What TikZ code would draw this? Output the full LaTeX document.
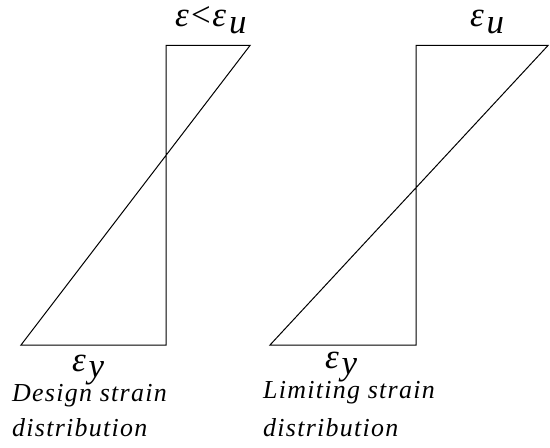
\documentclass[tikz,border=0pt]{standalone}
\usepackage{fontspec}
\setmainfont{Liberation Serif}
\newcommand{\subl}[1]{\kern0.08em\raisebox{-0.2em}{#1}}
\begin{document}
\begin{tikzpicture}[x=1bp,y=-1bp,
  lbl/.style={font=\itshape\fontsize{26}{30}\selectfont\addfontfeature{LetterSpace=5}, inner sep=0pt, anchor=base west},
  eps/.style={font=\itshape\fontsize{35}{38}\selectfont, inner sep=0pt, anchor=base west},
  profile/.style={line width=1bp, black, line join=miter}]
\useasboundingbox (0,0) rectangle (550,448);
% left profile
\coordinate (LTL) at (166,45.5);
\coordinate (LTR) at (250,45.5);
\coordinate (LBL) at (21,345);
\coordinate (LBR) at (166,345);
\draw[profile] (LTL) -- (LTR) -- (LBL) -- (LBR) -- cycle;
% right profile
\coordinate (RTL) at (416,45.5);
\coordinate (RTR) at (548,45.5);
\coordinate (RBL) at (270,345);
\coordinate (RBR) at (416,345);
\draw[profile] (RTL) -- (RTR) -- (RBL) -- (RBR) -- cycle;
% strain labels
\node[eps] (etop1) at (175,27) {ε<ε\subl{u}};
\node[eps] (etop2) at (470,27) {ε\subl{u}};
\node[eps] (ebot1) at (72,371) {ε\subl{y}};
\node[eps] (ebot2) at (325,368) {ε\subl{y}};
% captions
\node[lbl] (c1a) at (12,401) {Design strain};
\node[lbl] (c1b) at (12,436) {distribution};
\node[lbl] (c2a) at (263,398) {Limiting strain};
\node[lbl] (c2b) at (263,436) {distribution};
\end{tikzpicture}
\end{document}
